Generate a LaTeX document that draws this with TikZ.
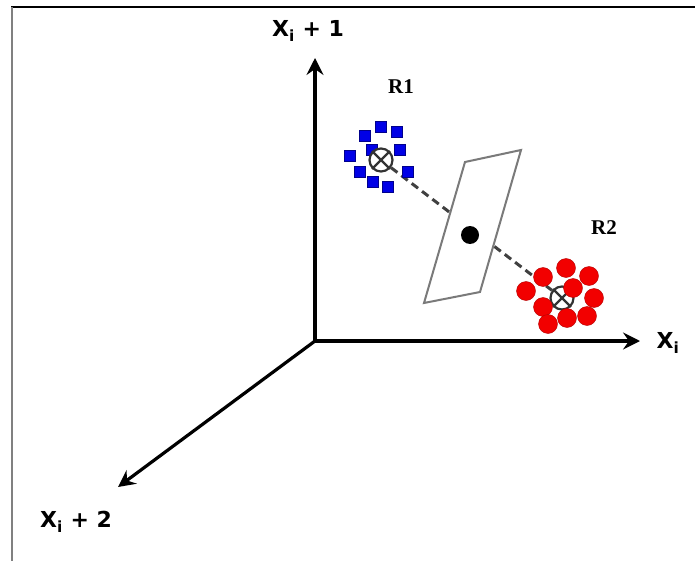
\documentclass[tikz,border=0pt]{standalone}
\usepackage{fontspec}
\setmainfont{DejaVu Sans}
\newfontfamily\rlabelfont{Liberation Serif}
\usetikzlibrary{arrows.meta,backgrounds}
\definecolor{ptblue}{HTML}{0000E6}
\definecolor{ptred}{HTML}{F20000}
\definecolor{planegray}{HTML}{7A7A7A}

\begin{document}
\begin{tikzpicture}[x=1pt, y=-1pt,
  axis/.style={line width=3.2pt, -{Stealth[length=17pt,width=17pt,inset=6pt]}},
  axislabel/.style={font=\fontsize{22}{26}\selectfont\bfseries},
  region/.style={font=\rlabelfont\fontsize{21}{24}\selectfont\bfseries},
  centroid/.style={circle, draw=black!80, line width=2.2pt, fill=white, minimum size=23pt, inner sep=0pt},
  sqpt/.style={rectangle, draw=blue!55!black, fill=ptblue, minimum size=11pt, inner sep=0pt, line width=0.5pt},
  rdpt/.style={circle, draw=red!70!black, fill=ptred, minimum size=19pt, inner sep=0pt, line width=0.4pt},
  link/.style={black!75, line width=3pt, dash pattern=on 8pt off 5pt},
  plane/.style={draw=planegray, line width=2pt, fill=white},
]
  \useasboundingbox (0,0) rectangle (695,561);

  % frame
  \draw[line width=1.8pt] (11,7) -- (695,7);
  \draw[gray, line width=2.2pt] (12,7) -- (12,561);

  % axes
  \coordinate (o) at (315,341);
  \coordinate (ytip) at (315,58);
  \coordinate (xtip) at (640,341);
  \coordinate (ztip) at (118,487);
  \draw[axis] (o) -- (ytip);
  \draw[axis] (o) -- (xtip);
  \draw[axis] (o) -- (ztip);
  \node[axislabel] (ylab) at (308,31) {X\textsubscript{i} + 1};
  \node[axislabel, anchor=west] (xlab) at (653,343) {X\textsubscript{i}};
  \node[axislabel] (zlab) at (76,522) {X\textsubscript{i} + 2};

  % region R1
  \node[region] (r1) at (401,87) {R1};
  \foreach \px/\py in {381/127, 365/136, 397/132, 350/156, 372/150,
                       400/150, 360/172, 408/172, 373/182, 388/187}
    \node[sqpt] at (\px,\py) {};
  \node[centroid] (c1) at (381,160) {};
  \draw[black!80, line width=2.2pt] (c1.north west) -- (c1.south east)
    (c1.north east) -- (c1.south west);

  % region R2
  \node[region] (r2) at (604,228) {R2};
  \node[centroid] (c2) at (562,298) {};
  \draw[black!80, line width=2.2pt] (c2.north west) -- (c2.south east)
    (c2.north east) -- (c2.south west);
  \foreach \px/\py in {566/268, 543/277, 589/276, 526/291, 573/288,
                       594/298, 543/307, 567/318, 587/316, 548/324}
    \node[rdpt] at (\px,\py) {};

  % separating plane
  \begin{scope}[on background layer]
    \draw[link] (c1) -- (c2);
    \draw[plane] (465,162) -- (521,150) -- (480,292) -- (424,303) -- cycle;
  \end{scope}
  \node[circle, fill=black, minimum size=18pt, inner sep=0pt] (mid) at (470,235) {};
\end{tikzpicture}
\end{document}
